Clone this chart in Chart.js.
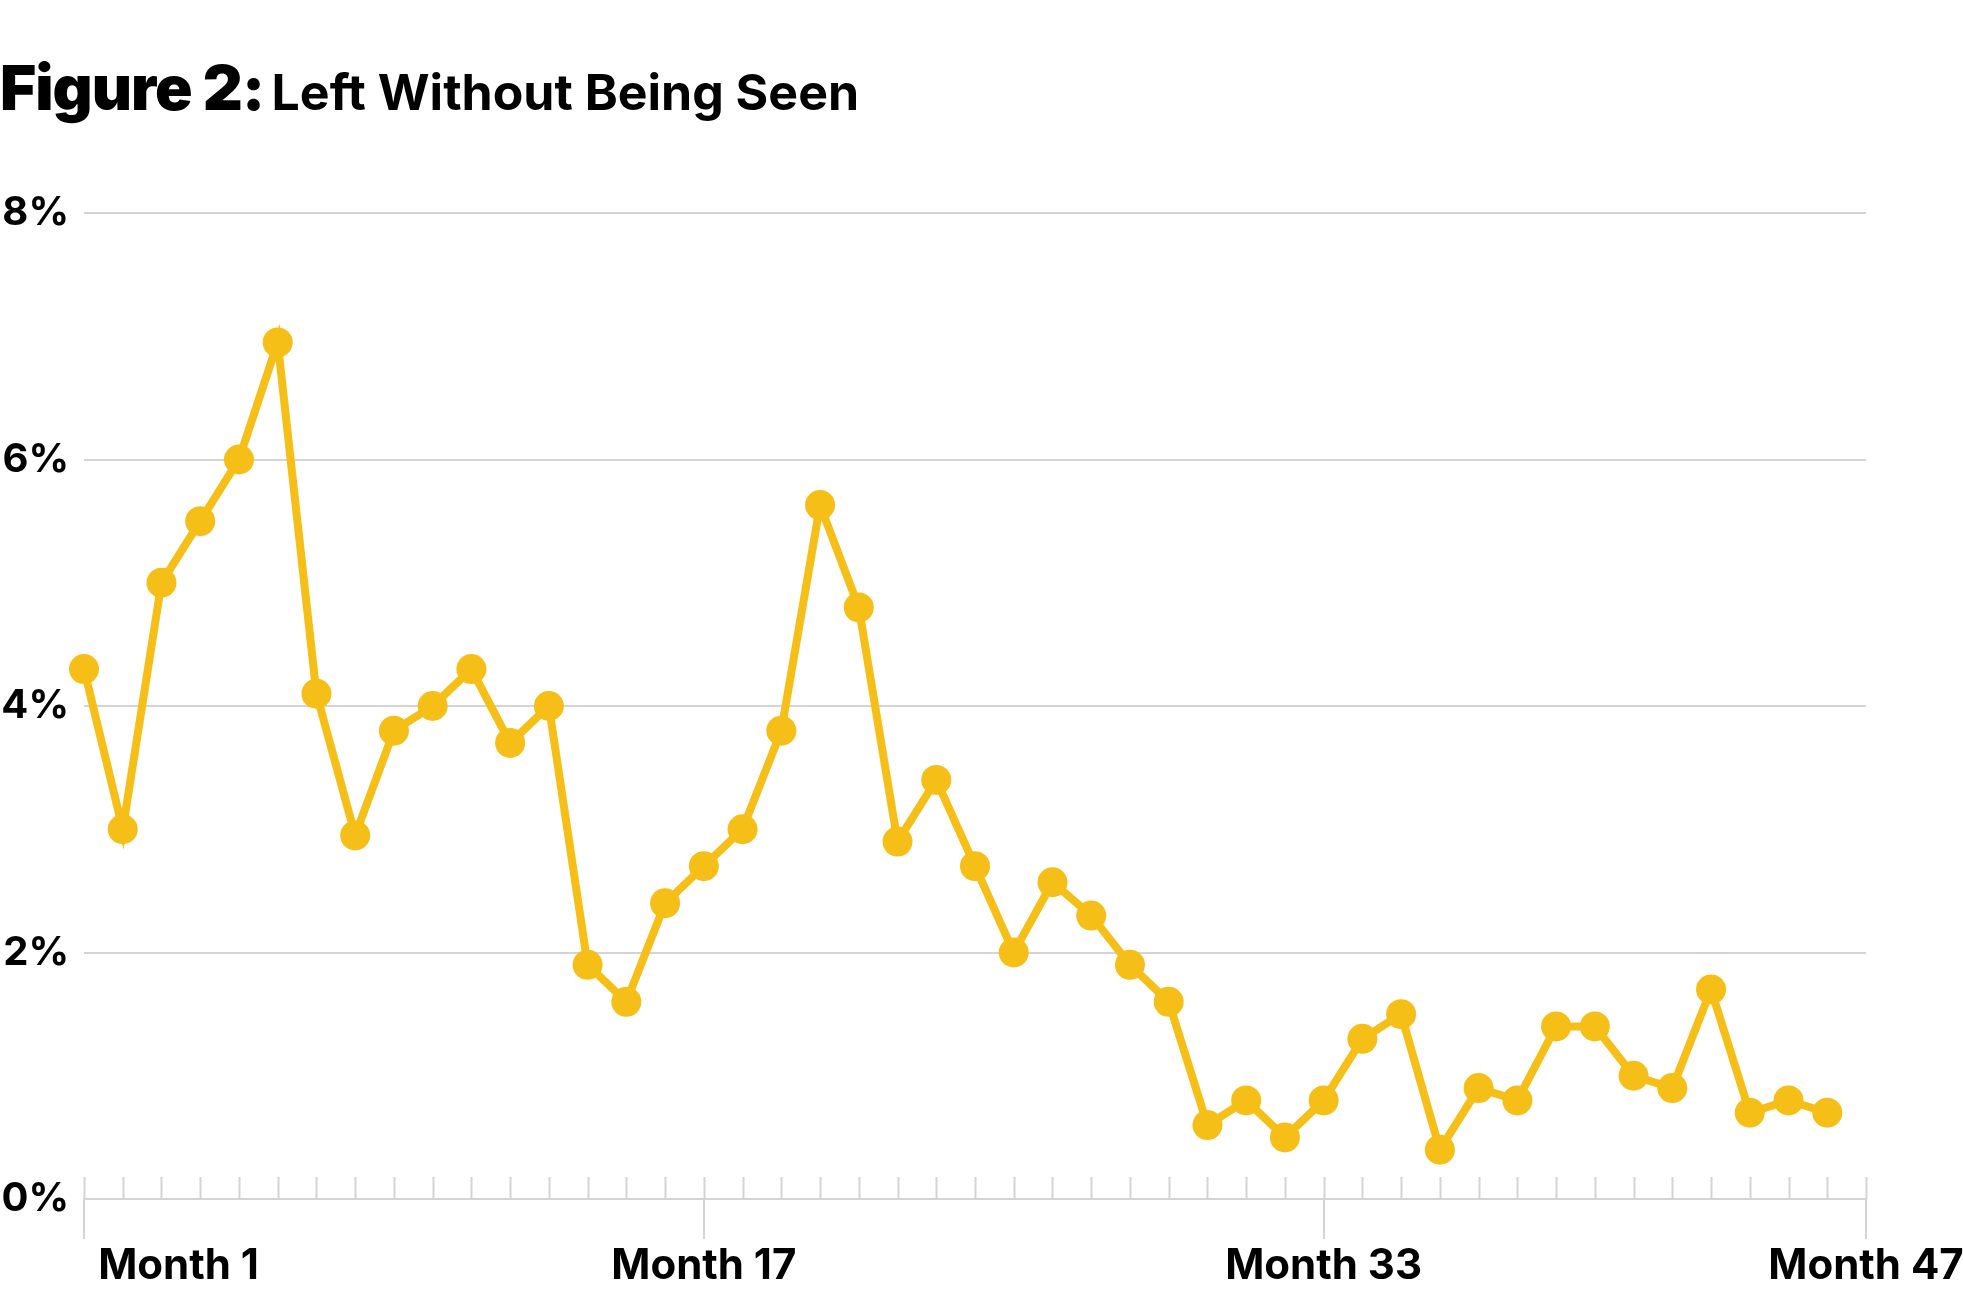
<!DOCTYPE html>
<html>
<head>
<meta charset="utf-8">
<script src="https://cdn.jsdelivr.net/npm/chart.js@4.4.1/dist/chart.umd.min.js"></script>
<style>
  body { margin: 0; background: #fff; }
  #title {
    position: absolute; left: 0; top: 57px;
    font-family: Inter, "Liberation Sans", sans-serif;
    line-height: 1; white-space: nowrap; color: #000;
  }
  #title .fig { font-size: 62px; font-weight: 900; letter-spacing: -1px; }
  #title .sub { font-size: 50px; font-weight: 700; margin-left: 3px; }
  #wrap { width: 1963px; height: 1294px; }
</style>
</head>
<body>
<div id="title"><span class="fig">Figure 2:</span> <span class="sub">Left Without Being Seen</span></div>
<div id="wrap"><canvas id="chartOne"></canvas></div>
<script>
// months 1..47 on the axis, data runs through month 46
const months = [];
for (let m = 1; m <= 47; m++) months.push('Month ' + m);

const shownMonths = [1, 17, 33, 47];

const lwbs = [
  4.3, 3.0, 5.0, 5.5, 6.0, 6.95, 4.1, 2.95, 3.8, 4.0,
  4.3, 3.7, 4.0, 1.9, 1.6, 2.4, 2.7, 3.0, 3.8, 5.63,
  4.8, 2.9, 3.4, 2.7, 2.0, 2.57, 2.3, 1.9, 1.6, 0.6,
  0.8, 0.5, 0.8, 1.3, 1.5, 0.4, 0.9, 0.8, 1.4, 1.4,
  1.0, 0.9, 1.7, 0.7, 0.8, 0.7
];

const yTicks = [0, 2, 4, 6, 8];

const yellow = '#f6bf17';
const grey = '#d4d4d4';

// short tick marks standing up from the x axis at every month
const monthTicks = {
  id: 'monthTicks',
  beforeDatasetsDraw(chart) {
    const x = chart.scales.x;
    const ctx = chart.ctx;
    const bottom = chart.chartArea.bottom;
    ctx.save();
    ctx.strokeStyle = grey;
    ctx.lineWidth = 2;
    ctx.beginPath();
    x.ticks.forEach((t, i) => {
      const px = Math.round(x.getPixelForTick(i)) + 0.5;
      ctx.moveTo(px, bottom - 22);
      ctx.lineTo(px, bottom);
    });
    ctx.stroke();
    ctx.restore();
  }
};

const chart1 = document.getElementById('chartOne');

new Chart(chart1, {
  type: 'line',
  data: {
    labels: months,
    datasets: [{
      label: 'Left Without Being Seen',
      data: lwbs,
      borderColor: yellow,
      backgroundColor: yellow,
      borderWidth: 8,
      pointRadius: 15,
      pointBorderWidth: 0,
      pointBackgroundColor: yellow,
      tension: 0
    }]
  },
  plugins: [monthTicks],
  options: {
    responsive: true,
    maintainAspectRatio: false,
    animation: false,
    layout: { padding: { top: 213, right: 97, left: 0, bottom: 0 } },
    plugins: {
      legend: { display: false },
      tooltip: { enabled: false }
    },
    scales: {
      x: {
        offset: false,
        border: { color: grey, width: 2 },
        grid: {
          drawOnChartArea: false,
          tickLength: 40,
          lineWidth: 2,
          color: (c) => shownMonths.includes(c.index + 1) ? grey : 'rgba(0,0,0,0)'
        },
        ticks: {
          autoSkip: false,
          maxRotation: 0,
          padding: 2,
          color: '#000',
          font: { family: 'Inter', size: 42, weight: '700' },
          callback: function(v, i) {
            const m = i + 1;
            if (!shownMonths.includes(m)) return '';
            // first label sits to the right of its tick
            return m === 1 ? ' '.repeat(19) + 'Month 1' : 'Month ' + m;
          }
        },
        afterFit: (s) => { s.height = 95; s.paddingLeft = 0; s.paddingRight = 0; }
      },
      y: {
        min: 0,
        max: 8,
        border: { display: false },
        grid: { color: grey, lineWidth: 2, drawTicks: false },
        afterBuildTicks: (s) => { s.ticks = yTicks.map(v => ({ value: v })); },
        ticks: {
          padding: 15,
          color: '#000',
          font: { family: 'Inter', size: 40, weight: '700' },
          callback: (v) => v + '%'
        },
        afterFit: (s) => { s.width = 84; }
      }
    }
  }
});
</script>
</body>
</html>
